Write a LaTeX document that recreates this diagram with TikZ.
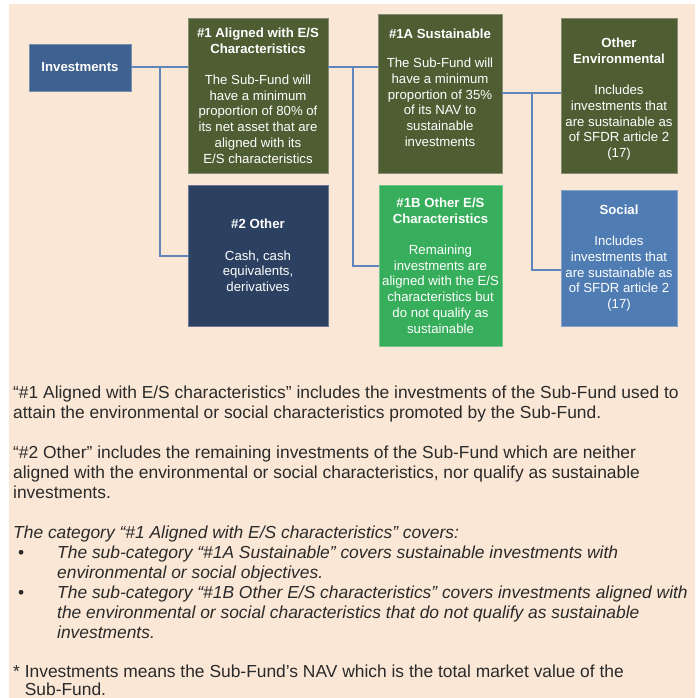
\documentclass[tikz,border=0pt]{standalone}
\usepackage{fontspec}
\setmainfont{Liberation Sans}
\usetikzlibrary{calc}

\begin{document}
\begin{tikzpicture}
  [x=1pt,y=1pt,
   % Styles
   box/.style={fill=#1,draw=#1!70!white,line width=0.6pt,text=white,
     align=center,inner sep=0pt,font=\fontsize{13.2}{15.7}\selectfont},
   link/.style={draw=linkcolor,line width=2pt},
   note text/.style={anchor=base west,align=left,inner sep=0pt,
     text=notecolor,font=\fontsize{17.4}{20}\selectfont}]

  % Local definitions
  \def\hangbul{\makebox[44pt][l]{\hspace{5pt}•}}
  \def\hangskip{\hspace*{44pt}}

  % Colors
  \definecolor{paper}{HTML}{FAE7D6}
  \definecolor{invcolor}{HTML}{3F618F}
  \definecolor{olivecolor}{HTML}{4F5D33}
  \definecolor{othercolor}{HTML}{2C4161}
  \definecolor{greencolor}{HTML}{37AE5B}
  \definecolor{socialcolor}{HTML}{4E7CB3}
  \definecolor{linkcolor}{HTML}{5F86BC}
  \definecolor{notecolor}{HTML}{2A2A2A}

  % The page
  \useasboundingbox (0,0) rectangle (698,-698);
  \fill[paper] (9,-4) rectangle (695,-698);

  % The boxes
  \node[box=invcolor,minimum width=102pt,minimum height=47pt] (inv) at (80,-67.5)
    {\textbf{Investments}};
  \node[box=olivecolor,minimum width=140pt,minimum height=155pt] (aligned) at (258,-95.5)
    {\textbf{\#1 Aligned with E/S}\\\textbf{Characteristics}\\[15.7pt]
     The Sub-Fund will\\have a minimum\\proportion of 80\% of\\its net asset that are\\
     aligned with its\\E/S characteristics};
  \node[box=othercolor,minimum width=140pt,minimum height=141pt] (other) at (258,-255.5)
    {\textbf{\#2 Other}\\[15.7pt]Cash, cash\\equivalents,\\derivatives};
  \node[box=olivecolor,minimum width=124pt,minimum height=159pt,text depth=12pt] (sust) at (440,-93.5)
    {\textbf{\#1A Sustainable}\\[14pt]The Sub-Fund will\\have a minimum\\
     proportion of 35\%\\of its NAV to\\sustainable\\investments};
  \node[box=greencolor,minimum width=123pt,minimum height=161pt] (otheres) at (440.5,-265.5)
    {\textbf{\#1B Other E/S}\\\textbf{Characteristics}\\[15.7pt]Remaining\\
     investments are\\aligned with the E/S\\characteristics but\\do not qualify as\\sustainable};
  \node[box=olivecolor,minimum width=116pt,minimum height=155pt] (env) at (619,-95.5)
    {\rule{0pt}{17pt}\textbf{Other}\\\textbf{Environmental}\\[15.7pt]Includes\\investments that\\
     are sustainable as\\of SFDR article 2\\(17)};
  \node[box=socialcolor,minimum width=116pt,minimum height=136pt] (soc) at (619,-258)
    {\textbf{Social}\\[15.7pt]Includes\\investments that\\are sustainable as\\
     of SFDR article 2\\(17)};

  % The links
  \coordinate (j1) at ($(inv.east)!.5!(inv.east -| aligned.west)$);
  \coordinate (j2) at ($(aligned.east |- inv.east)!.5!(sust.west |- inv.east)$);
  \coordinate (j3) at ($(sust.east)!.5!(sust.east -| env.west)$);

  \draw[link] (inv.east) -- (inv.east -| aligned.west);
  \draw[link] (j1) |- (other.west);
  \draw[link] (aligned.east |- inv.east) -- (sust.west |- inv.east);
  \draw[link] (j2) |- (otheres.west);
  \draw[link] (sust.east) -- (sust.east -| env.west);
  \draw[link] (j3) |- ([yshift=-12pt]soc.west);

  % The notes (anchored at the baseline of their last line)
  \node[note text] (n1) at (13,-418)
    {“\#1 Aligned with E/S characteristics” includes the investments of the Sub-Fund used to\\
     attain the environmental or social characteristics promoted by the Sub-Fund.};
  \node[note text] (n2) at (13,-498)
    {“\#2 Other” includes the remaining investments of the Sub-Fund which are neither\\
     aligned with the environmental or social characteristics, nor qualify as sustainable\\
     investments.};
  \node[note text] (n3) at (13,-638)
    {\textit{The category “\#1 Aligned with E/S characteristics” covers:}\\
     \hangbul\textit{The sub-category “\#1A Sustainable” covers sustainable investments with}\\
     \hangskip\textit{environmental or social objectives.}\\
     \hangbul\textit{The sub-category “\#1B Other E/S characteristics” covers investments aligned with}\\
     \hangskip\textit{the environmental or social characteristics that do not qualify as sustainable}\\
     \hangskip\textit{investments.}};
  \node[note text,font=\fontsize{17.4}{18}\selectfont] (n4) at (13,-695)
    {* Investments means the Sub-Fund’s NAV which is the total market value of the\\
     \hphantom{* }Sub-Fund.};
\end{tikzpicture}
\end{document}
